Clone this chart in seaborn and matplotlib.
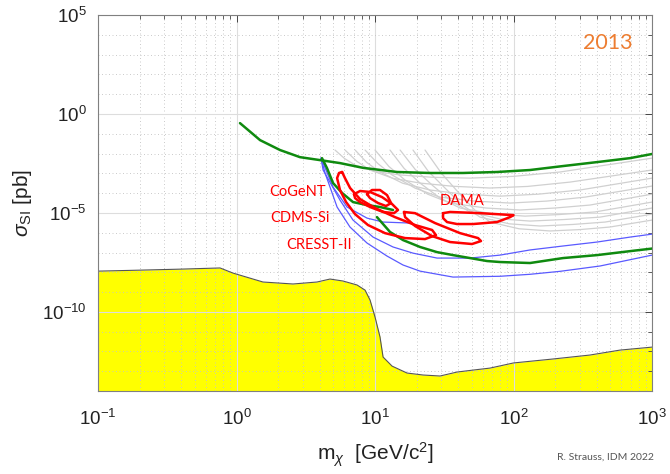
import numpy as np
import matplotlib
matplotlib.use("Agg")
import matplotlib.pyplot as plt
import seaborn as sns
from matplotlib.ticker import FixedLocator, LogLocator, NullFormatter, LogFormatterSciNotation

# ---------------- data (log10 of mass [GeV] and log10 of cross section [pb]) -------------
floor_logm = [-1.0, -0.697, -0.408, -0.119, -0.025, 0.191, 0.408, 0.581, 0.675, 0.769, 0.870,
              0.928, 0.964, 1.0, 1.036, 1.058, 1.123, 1.231, 1.347, 1.469, 1.592, 1.708, 1.830,
              2.0, 2.285, 2.552, 2.769, 3.0]
floor_logs = [-7.94, -7.89, -7.84, -7.78, -8.04, -8.49, -8.59, -8.49, -8.34, -8.44, -8.64,
              -8.90, -9.40, -10.26, -11.27, -12.28, -12.74, -13.09, -13.19, -13.24, -13.04, -12.94,
              -12.84, -12.58, -12.38, -12.18, -11.93, -11.78]

green_up_logm = [0.025, 0.170, 0.314, 0.458, 0.603, 0.747, 0.913, 1.159, 1.397, 1.635, 1.881,
                 2.119, 2.357, 2.603, 2.841, 3.0]
green_up_logs = [-0.46, -1.32, -1.82, -2.18, -2.33, -2.48, -2.72, -2.93, -2.98, -2.98, -2.93,
                 -2.83, -2.63, -2.43, -2.23, -2.02]

green_lo1_logm = [0.617, 0.653, 0.697, 0.762, 0.841, 0.942, 1.036, 1.13]
green_lo1_logs = [-2.23, -2.73, -3.49, -3.99, -4.45, -4.60, -4.70, -4.85]

green_lo2_logm = [1.014, 1.108, 1.202, 1.325, 1.448, 1.563, 1.686, 1.809, 1.903, 2.119, 2.357,
                  2.603, 2.841, 3.0]
green_lo2_logs = [-5.21, -5.96, -6.37, -6.72, -6.98, -7.13, -7.28, -7.43, -7.48, -7.53, -7.28,
                  -7.13, -6.93, -6.80]

blue_a_logm = [0.610, 0.697, 0.798, 0.942, 1.058, 1.253]
blue_a_logs = [-2.23, -3.69, -4.70, -5.26, -5.46, -5.51]

blue_b_logm = [0.610, 0.625, 0.747, 0.841, 0.986, 1.130, 1.274, 1.448, 1.686, 1.903, 2.119,
               2.357, 2.603, 2.841, 3.0]
blue_b_logs = [-2.23, -2.83, -4.35, -5.36, -6.22, -6.72, -7.03, -7.28, -7.28, -7.13, -6.87,
               -6.67, -6.47, -6.22, -6.07]

blue_c_logm = [0.610, 0.639, 0.726, 0.819, 0.942, 1.087, 1.202, 1.325, 1.563, 1.903, 2.119,
               2.336, 2.625, 3.0]
blue_c_logs = [-2.23, -2.98, -4.70, -5.71, -6.52, -7.18, -7.63, -7.94, -8.24, -8.20, -8.10,
               -7.95, -7.68, -7.13]

grey1_logm = [0.711, 0.780, 0.856, 1.000, 1.181, 1.420, 1.686, 2.000, 2.336, 3.0]
grey1_logs = [-1.82, -2.25, -2.58, -2.90, -3.08, -3.20, -3.24, -3.15, -2.93, -2.23]
grey2_logm = [0.783, 0.870, 0.964, 1.130, 1.325, 1.560, 1.830, 2.100, 2.408, 3.0]
grey2_logs = [-1.82, -2.40, -2.83, -3.25, -3.49, -3.65, -3.74, -3.66, -3.44, -2.83]
grey3_logm = [0.856, 0.940, 1.036, 1.200, 1.397, 1.640, 1.903, 2.180, 2.480, 3.0]
grey3_logs = [-1.82, -2.45, -2.93, -3.50, -3.84, -4.05, -4.15, -4.05, -3.84, -3.24]
grey4_logm = [0.928, 1.020, 1.123, 1.290, 1.469, 1.720, 1.975, 2.240, 2.516, 3.0]
grey4_logs = [-1.82, -2.50, -3.08, -3.75, -4.20, -4.40, -4.50, -4.40, -4.20, -3.64]
grey5_logm = [1.0, 1.100, 1.217, 1.380, 1.542, 1.800, 2.047, 2.300, 2.552, 3.0]
grey5_logs = [-1.82, -2.65, -3.34, -4.05, -4.50, -4.75, -4.85, -4.75, -4.60, -4.05]
grey6_logm = [1.108, 1.210, 1.325, 1.470, 1.614, 1.850, 2.083, 2.330, 2.588, 3.0]
grey6_logs = [-1.82, -2.75, -3.49, -4.25, -4.75, -5.05, -5.16, -5.08, -4.95, -4.45]
grey7_logm = [1.181, 1.290, 1.412, 1.550, 1.686, 1.900, 2.119, 2.370, 2.625, 3.0]
grey7_logs = [-1.82, -2.80, -3.59, -4.40, -4.95, -5.30, -5.41, -5.33, -5.21, -4.75]
grey8_logm = [1.274, 1.385, 1.505, 1.630, 1.758, 1.970, 2.191, 2.430, 2.661, 3.0]
grey8_logs = [-1.82, -2.90, -3.74, -4.60, -5.21, -5.55, -5.66, -5.58, -5.46, -5.06]
grey9_logm = [1.361, 1.480, 1.599, 1.720, 1.830, 2.040, 2.264, 2.480, 2.697, 3.0]
grey9_logs = [-1.82, -3.00, -3.94, -4.85, -5.46, -5.80, -5.91, -5.84, -5.71, -5.36]

red1_logm = [0.762, 0.740, 0.726, 0.747, 0.791, 0.856, 0.949, 1.072, 1.217, 1.361, 1.440, 1.412,
             1.289, 1.144, 1.0, 0.892, 0.820, 0.783, 0.762]
red1_logs = [-2.93, -2.98, -3.24, -3.84, -4.45, -5.06, -5.61, -6.02, -6.27, -6.32, -6.12, -5.86,
             -5.61, -5.21, -4.75, -4.30, -3.74, -3.24, -2.93]
red2_logm = [1.209, 1.289, 1.433, 1.614, 1.744, 1.765, 1.700, 1.542, 1.412, 1.289, 1.217, 1.209]
red2_logs = [-4.95, -5.01, -5.51, -6.02, -6.27, -6.42, -6.57, -6.47, -6.17, -5.66, -5.21, -4.95]
red3_logm = [0.848, 0.892, 0.964, 1.051, 1.123, 1.166, 1.137, 1.058, 0.964, 0.892, 0.856, 0.848]
red3_logs = [-4.05, -3.89, -3.94, -4.20, -4.55, -4.85, -5.01, -4.95, -4.70, -4.45, -4.25, -4.05]
red4_logm = [0.942, 0.978, 1.036, 1.087, 1.116, 1.079, 1.022, 0.964, 0.942]
red4_logs = [-4.05, -3.84, -3.84, -4.10, -4.50, -4.65, -4.50, -4.25, -4.05]
dama_logm = [1.491, 1.542, 1.758, 2.0, 1.975, 1.881, 1.708, 1.592, 1.520, 1.491, 1.491]
dama_logs = [-5.01, -4.95, -5.01, -5.11, -5.21, -5.46, -5.56, -5.56, -5.46, -5.26, -5.01]

labels = ["CoGeNT", "CDMS-Si", "CRESST-II", "DAMA"]
year = "2013"
credit = "R. Strauss, IDM 2022"

# ---------------- style ----------------
sns.set_theme(style="white")
plt.rcParams['font.family'] = ['Liberation Sans', 'DejaVu Sans']
plt.rcParams['mathtext.fontset'] = 'custom'
plt.rcParams['mathtext.rm'] = 'Liberation Sans'
plt.rcParams['mathtext.it'] = 'Liberation Sans:italic'
plt.rcParams['mathtext.sf'] = 'Liberation Sans'
plt.rcParams['axes.unicode_minus'] = False

fig = plt.figure(figsize=(6.7, 4.74), dpi=100)
ax = fig.add_axes([0.1463, 0.175, 0.8269, 0.7932])
ax.set_xscale('log')
ax.set_yscale('log')

def P(lm, ls):
    return 10.0 ** np.asarray(lm), 10.0 ** np.asarray(ls)

# neutrino floor
fx, fy = P(floor_logm, floor_logs)
ax.fill_between(fx, 1e-14, fy, color='#ffff00', lw=0, zorder=1)
sns.lineplot(x=fx, y=fy, ax=ax, color='#555555', lw=0.8, sort=False, estimator=None, zorder=2)

for lm, ls in [(grey1_logm, grey1_logs), (grey2_logm, grey2_logs), (grey3_logm, grey3_logs),
               (grey4_logm, grey4_logs), (grey5_logm, grey5_logs), (grey6_logm, grey6_logs),
               (grey7_logm, grey7_logs), (grey8_logm, grey8_logs), (grey9_logm, grey9_logs)]:
    x, y = P(lm, ls)
    sns.lineplot(x=x, y=y, ax=ax, color='#d0d0d0', lw=0.9, sort=False, estimator=None, zorder=2)

for lm, ls in [(blue_a_logm, blue_a_logs), (blue_b_logm, blue_b_logs), (blue_c_logm, blue_c_logs)]:
    x, y = P(lm, ls)
    sns.lineplot(x=x, y=y, ax=ax, color='#5a5aff', lw=0.9, sort=False, estimator=None, zorder=3)

for lm, ls in [(green_up_logm, green_up_logs), (green_lo1_logm, green_lo1_logs),
               (green_lo2_logm, green_lo2_logs)]:
    x, y = P(lm, ls)
    sns.lineplot(x=x, y=y, ax=ax, color='#0f8a0f', lw=1.8, sort=False, estimator=None, zorder=4)

for lm, ls in [(red1_logm, red1_logs), (red2_logm, red2_logs), (red3_logm, red3_logs),
               (red4_logm, red4_logs), (dama_logm, dama_logs)]:
    x, y = P(lm, ls)
    sns.lineplot(x=x, y=y, ax=ax, color='#ff0000', lw=1.8, sort=False, estimator=None, zorder=5)

ax.set_xlim(0.1, 1000)
ax.set_ylim(1e-14, 1e5)

ax.xaxis.set_major_locator(LogLocator(base=10, numticks=10))
ax.xaxis.set_minor_locator(LogLocator(base=10, subs=np.arange(2, 10), numticks=20))
ax.xaxis.set_minor_formatter(NullFormatter())
ax.yaxis.set_major_locator(FixedLocator([1e-10, 1e-5, 1e0, 1e5]))
ax.yaxis.set_minor_locator(FixedLocator([10.0 ** k for k in range(-14, 6)]))
ax.yaxis.set_major_formatter(LogFormatterSciNotation())
ax.yaxis.set_minor_formatter(NullFormatter())

ax.set_axisbelow('line')
ax.grid(which='major', color='#dddddd', lw=0.8, ls='-', zorder=1.5)
ax.grid(which='minor', color='#c4c4c4', lw=0.6, ls=(0, (1.2, 3)), zorder=1.5)

ax.tick_params(which='both', direction='in', top=True, right=True, colors='#444444',
               labelcolor='#222222')
ax.tick_params(which='major', length=5, width=0.7, labelsize=13.5)
ax.tick_params(axis='x', which='major', pad=13)
ax.tick_params(axis='y', which='major', pad=8)
ax.tick_params(which='minor', length=3, width=0.6)
for s in ax.spines.values():
    s.set_color('#808080')
    s.set_linewidth(0.8)

ax.set_xlabel(r"m$_{\chi}$  [GeV/c$^2$]", fontsize=15, color='#222222', labelpad=8)
ax.set_ylabel(r"$\sigma_{\mathrm{SI}}$ [pb]", fontsize=15, color='#222222', labelpad=6)

tfont = ['Lato', 'DejaVu Sans']
ax.text(0.361, 0.529, labels[0], transform=ax.transAxes, color='#ff0000', fontsize=10.5,
        family=tfont, ha='center', va='center', zorder=6)
ax.text(0.365, 0.460, labels[1], transform=ax.transAxes, color='#ff0000', fontsize=10.5,
        family=tfont, ha='center', va='center', zorder=6)
ax.text(0.399, 0.388, labels[2], transform=ax.transAxes, color='#ff0000', fontsize=10.5,
        family=tfont, ha='center', va='center', zorder=6)
ax.text(0.657, 0.505, labels[3], transform=ax.transAxes, color='#ff0000', fontsize=10.5,
        family=tfont, ha='center', va='center', zorder=6)
ax.text(0.921, 0.926, year, transform=ax.transAxes, color='#ed7d31', fontsize=15.5,
        family=tfont, ha='center', va='center', zorder=6)
fig.text(0.903, 0.036, credit, color='#555555', fontsize=7.5, family=tfont,
         ha='center', va='center')

fig.savefig("out.png", dpi=100)
